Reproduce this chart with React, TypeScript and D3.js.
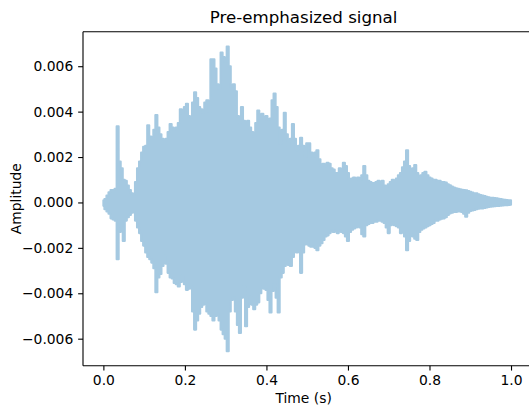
import React, { useEffect, useRef } from 'react';
import * as d3 from 'd3';

// envelope of the pre-emphasized signal, one pair per 5 ms bin, amplitude in units of 1e-3
const SAMPLE_STEP = 0.005;
const AMP_UNIT = 1e-3;

const upperE3 = [
  0.1, 0.15, 0.3, 0.45, 0.55, 0.55, 0.6, 3.35, 1.8, 1.5,
  1.0, 0.95, 0.75, 0.55, 0.4, 0.35, 0.9, 1.5, 1.8, 2.2,
  2.45, 2.5, 3.4, 2.9, 2.8, 3.2, 3.85, 3.3, 3.0, 2.8,
  2.75, 2.8, 3.1, 3.45, 3.3, 3.2, 3.3, 3.5, 4.1, 3.9,
  4.2, 4.35, 3.8, 3.75, 4.4, 4.85, 4.6, 4.2, 4.1, 3.95,
  4.4, 4.5, 4.0, 6.3, 6.3, 5.9, 5.2, 5.0, 6.6, 6.4,
  6.2, 6.87, 6.0, 5.1, 5.2, 4.9, 3.8, 3.5, 4.2, 3.6,
  3.2, 3.6, 3.3, 3.1, 2.9, 3.5, 4.05, 3.7, 3.9, 3.65,
  3.8, 3.65, 3.7, 4.5, 4.8, 4.2, 3.3, 2.6, 3.2, 3.95,
  3.0, 2.45, 2.8, 3.45, 2.8, 2.3, 2.5, 2.85, 2.5, 2.0,
  2.6, 2.6, 2.2, 2.0, 2.2, 2.3, 1.9, 1.6, 1.7, 1.6,
  1.75, 1.7, 1.5, 1.45, 1.3, 1.3, 1.5, 1.4, 1.75, 1.6,
  1.3, 1.0, 1.05, 1.1, 1.0, 1.1, 1.0, 1.2, 1.6, 1.2,
  0.95, 0.9, 0.85, 0.85, 0.9, 0.95, 0.85, 0.95, 0.75, 0.7,
  0.8, 0.9, 1.0, 0.95, 1.05, 1.2, 1.3, 1.55, 1.8, 2.3,
  1.6, 1.4, 1.5, 1.65, 1.3, 1.15, 1.2, 1.3, 1.35, 1.2,
  1.1, 1.05, 1.0, 1.0, 0.95, 0.95, 0.9, 0.9, 0.88, 0.8,
  0.76, 0.7, 0.66, 0.62, 0.6, 0.58, 0.56, 0.55, 0.54, 0.5,
  0.47, 0.44, 0.4, 0.4, 0.36, 0.33, 0.3, 0.28, 0.25, 0.23,
  0.21, 0.2, 0.19, 0.18, 0.16, 0.15, 0.13, 0.12, 0.11, 0.1,
  0.1,
];

const lowerE3 = [
  -0.15, -0.3, -0.4, -0.5, -0.7, -0.75, -0.8, -2.5, -1.3, -1.1,
  -1.7, -0.8, -0.65, -0.55, -0.45, -0.4, -0.8, -1.1, -1.35, -1.7,
  -1.9, -2.2, -2.4, -2.5, -2.65, -2.9, -3.95, -3.3, -3.15, -2.8,
  -2.35, -2.7, -3.1, -3.3, -3.35, -3.55, -3.6, -3.7, -3.5, -3.2,
  -3.6, -3.85, -3.8, -3.7, -4.8, -5.6, -5.2, -4.9, -4.6, -4.5,
  -4.45, -4.8, -4.9, -5.0, -5.2, -5.0, -4.9, -5.2, -5.6, -5.8,
  -6.0, -6.55, -4.8, -4.3, -4.2, -4.8, -5.4, -5.75, -4.2, -3.7,
  -5.45, -4.6, -4.15, -4.5, -4.7, -4.5, -4.4, -4.0, -3.7, -3.8,
  -3.85, -4.3, -4.85, -3.9, -3.6, -4.2, -4.85, -3.3, -3.1, -2.8,
  -2.55, -2.75, -2.8, -2.4, -2.1, -2.2, -2.15, -3.1, -2.2, -1.85,
  -1.8, -1.9, -1.95, -1.95, -2.0, -2.1, -1.9, -1.8, -1.65, -1.5,
  -1.45, -1.35, -1.25, -1.3, -1.25, -1.35, -1.25, -1.3, -1.35, -1.5,
  -1.7, -1.3, -1.2, -1.15, -1.1, -1.05, -1.1, -1.4, -1.5, -1.0,
  -0.95, -0.9, -0.9, -0.85, -0.85, -0.8, -0.8, -0.85, -0.9, -1.1,
  -1.35, -1.0, -0.9, -1.0, -1.05, -1.1, -1.35, -1.3, -1.5, -2.1,
  -1.7, -1.4, -1.5, -1.6, -1.65, -1.3, -1.2, -1.15, -1.1, -1.05,
  -1.0, -0.95, -0.9, -0.8, -0.8, -0.75, -0.72, -0.7, -0.65, -0.55,
  -0.48, -0.45, -0.42, -0.42, -0.4, -0.4, -0.42, -0.5, -0.63, -0.45,
  -0.38, -0.35, -0.33, -0.3, -0.28, -0.27, -0.26, -0.24, -0.22, -0.2,
  -0.19, -0.18, -0.17, -0.16, -0.15, -0.14, -0.13, -0.12, -0.12, -0.11,
  -0.1,
];

const xTicks = [0, 0.2, 0.4, 0.6, 0.8, 1.0];
const yTicksE3 = [-6, -4, -2, 0, 2, 4, 6];

const WIDTH = 529;
const HEIGHT = 407;
const FONT = '"DejaVu Sans", sans-serif';
const WAVE_COLOR = '#a5c9e1';
const PT = 100 / 72; // figure was saved at 100 dpi

const App = () => {
  const svgRef = useRef<SVGSVGElement>(null);

  useEffect(() => {
    const svg = d3.select(svgRef.current);
    svg.selectAll('*').remove();

    const plot = { left: 83, top: 31.7, right: 531.4, bottom: 365.7 };

    const x = d3.scaleLinear().domain([-0.05, 1.05]).range([plot.left, plot.right]);
    const y = d3.scaleLinear().domain([-7.19, 7.52]).range([plot.bottom, plot.top]);

    const times = upperE3.map((_, i) => i * SAMPLE_STEP);

    const area = d3
      .area<number>()
      .x((_, i) => x(times[i]))
      .y0((_, i) => y(lowerE3[i]))
      .y1((d) => y(d))
      .curve(d3.curveStep);

    svg
      .append('path')
      .datum(upperE3)
      .attr('d', area)
      .attr('fill', WAVE_COLOR)
      .attr('stroke', WAVE_COLOR)
      .attr('stroke-width', 1.5 * PT)
      .attr('stroke-linejoin', 'round');

    // spines
    const spine = svg.append('g').attr('stroke', 'black').attr('stroke-width', 0.8 * PT);
    spine.append('line').attr('x1', plot.left).attr('x2', plot.left).attr('y1', plot.top).attr('y2', plot.bottom);
    spine.append('line').attr('x1', plot.left).attr('x2', plot.right).attr('y1', plot.top).attr('y2', plot.top);
    spine.append('line').attr('x1', plot.left).attr('x2', plot.right).attr('y1', plot.bottom).attr('y2', plot.bottom);
    spine.append('line').attr('x1', plot.right).attr('x2', plot.right).attr('y1', plot.top).attr('y2', plot.bottom);

    const minus = (s: string) => s.replace('-', '\u2212');

    const xAxis = svg
      .append('g')
      .attr('transform', `translate(0,${plot.bottom})`)
      .call(
        d3
          .axisBottom(x)
          .tickValues(xTicks)
          .tickSize(3.5 * PT)
          .tickPadding(3.5 * PT)
          .tickFormat((d) => d3.format('.1f')(d as number))
      );

    const yAxis = svg
      .append('g')
      .attr('transform', `translate(${plot.left},0)`)
      .call(
        d3
          .axisLeft(y)
          .tickValues(yTicksE3)
          .tickSize(3.5 * PT)
          .tickPadding(3.5 * PT)
          .tickFormat((d) => minus(((d as number) * AMP_UNIT).toFixed(3)))
      );

    [xAxis, yAxis].forEach((g) => {
      g.select('.domain').remove();
      g.selectAll('line').attr('stroke', 'black').attr('stroke-width', 0.8 * PT);
      g.selectAll('text')
        .attr('fill', 'black')
        .style('font-family', FONT)
        .style('font-size', `${10 * PT}px`);
    });

    const midX = 303.6;

    svg
      .append('text')
      .attr('x', midX)
      .attr('y', 403)
      .attr('text-anchor', 'middle')
      .style('font-family', FONT)
      .style('font-size', `${10 * PT}px`)
      .text('Time (s)');

    svg
      .append('text')
      .attr('transform', `translate(20.5,${(plot.top + plot.bottom) / 2}) rotate(-90)`)
      .attr('text-anchor', 'middle')
      .style('font-family', FONT)
      .style('font-size', `${10 * PT}px`)
      .text('Amplitude');

    svg
      .append('text')
      .attr('x', midX)
      .attr('y', 22.5)
      .attr('text-anchor', 'middle')
      .style('font-family', FONT)
      .style('font-size', `${12 * PT}px`)
      .text('Pre-emphasized signal');
  }, []);

  return (
    <svg
      ref={svgRef}
      width={WIDTH}
      height={HEIGHT}
      style={{ position: 'absolute', left: 0, top: 0, background: 'white' }}
    />
  );
};

export default App;
